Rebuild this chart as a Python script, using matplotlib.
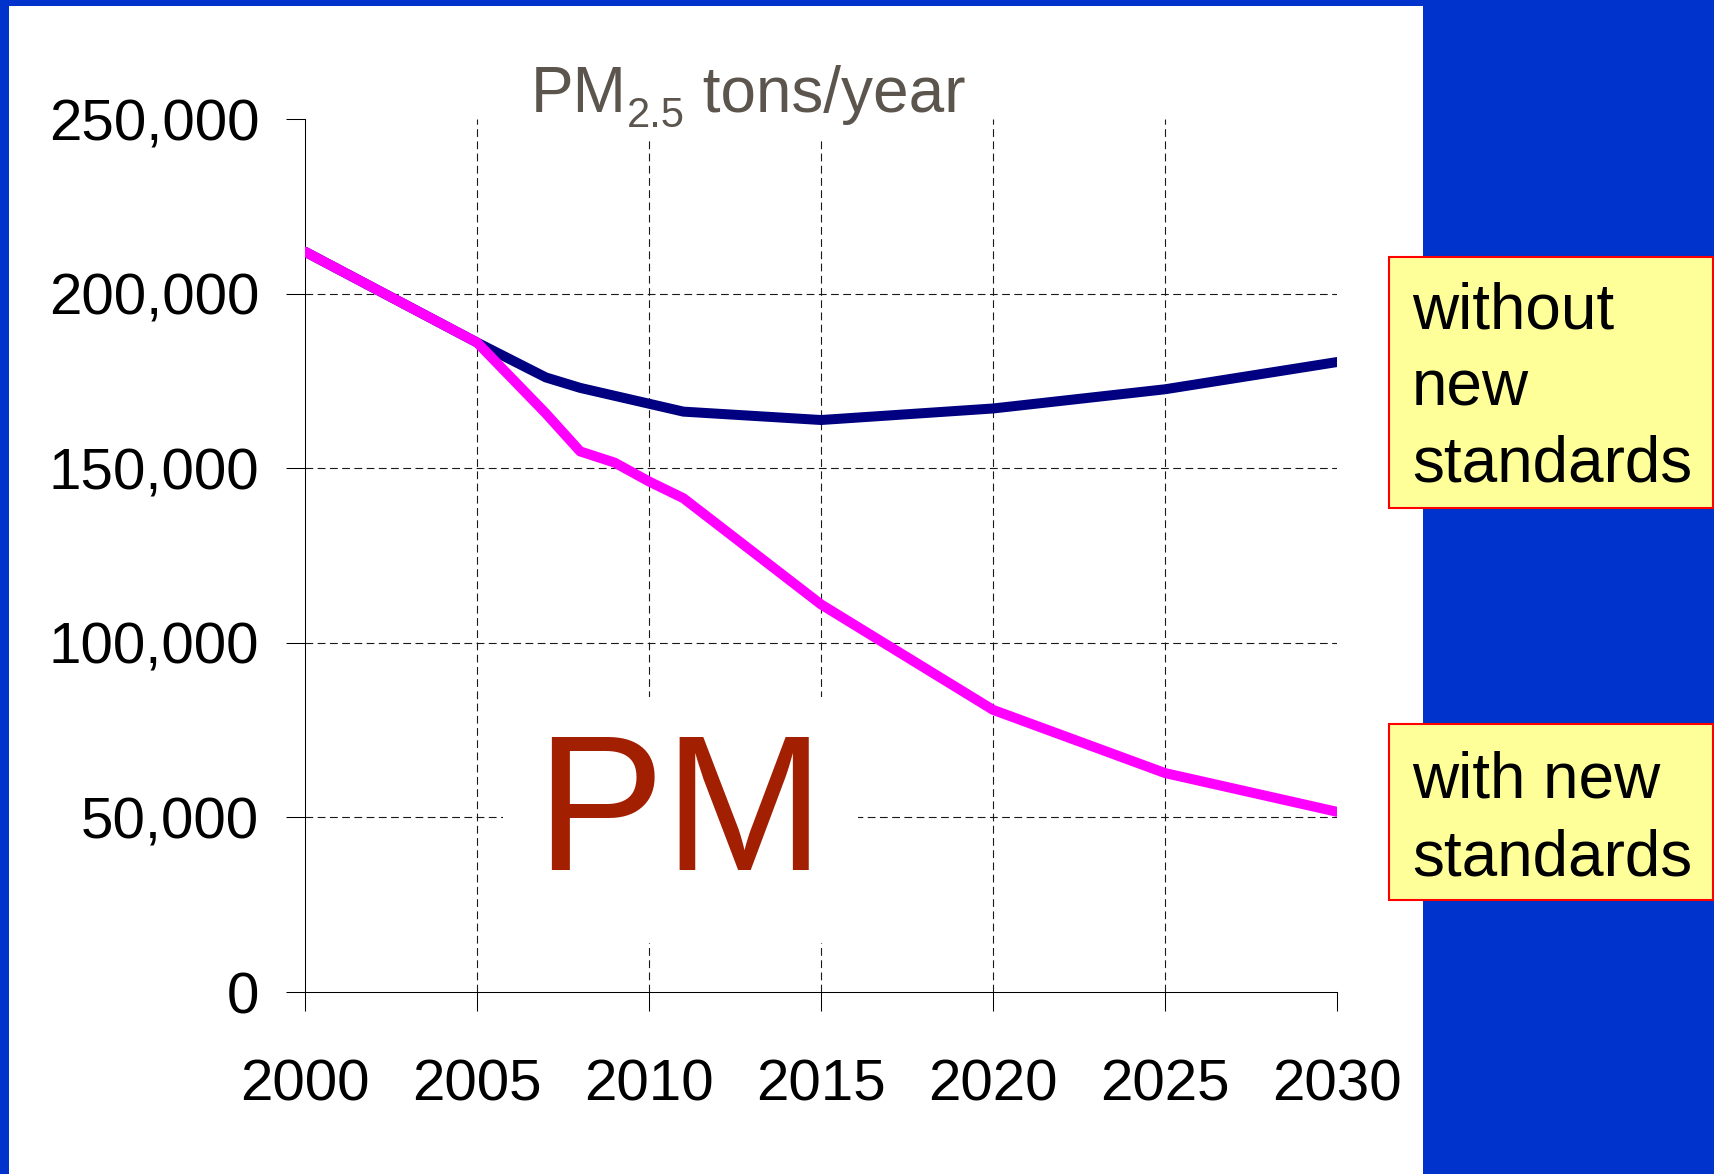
import numpy as np
import matplotlib
matplotlib.use("Agg")
import matplotlib.pyplot as plt
import matplotlib.ticker as ticker
from matplotlib.patches import Rectangle

plt.rcParams.update({
    "font.family": ["Liberation Sans", "DejaVu Sans"],
})

# PM2.5 emissions, tons/year
YEARS_WITHOUT = [2000, 2005, 2007, 2008, 2011, 2015, 2020, 2025, 2030]
PM_WITHOUT = [212000, 186000, 176000, 173000, 166200, 163800, 167100, 172600, 180400]

YEARS_WITH = [2000, 2005, 2007, 2008, 2009, 2010, 2011, 2015, 2020, 2025, 2030]
PM_WITH = [212000, 186000, 165700, 154800, 151600, 146200, 141400, 111000, 80800, 62700, 51600]

X_TICKS = [2000, 2005, 2010, 2015, 2020, 2025, 2030]
Y_TICKS = [0, 50000, 100000, 150000, 200000, 250000]

TITLE_PARTS = ["PM", "2.5", " tons/year"]
LABEL_WITHOUT = ["without", "new", "standards"]
LABEL_WITH = ["with new", "standards"]

W, H = 1715, 1174
BG_BLUE = "#0033CC"

fig = plt.figure(figsize=(W / 100, H / 100), dpi=100)
fig.patch.set_facecolor(BG_BLUE)

# white slide area
fig.patches.append(Rectangle((9 / W, 0), (1423 - 9) / W, (H - 6) / H,
                             transform=fig.transFigure, facecolor="white",
                             edgecolor="none", zorder=-5))

ax = fig.add_axes([305 / W, 1 - 992 / H, (1337 - 305) / W, (992 - 119) / H])
ax.patch.set_alpha(0)

ax.set_xlim(X_TICKS[0], X_TICKS[-1])
ax.set_ylim(Y_TICKS[0], Y_TICKS[-1])

# dashed grid, inner ticks only
grid_kw = dict(color="#1a1a1a", linewidth=0.8, linestyle=(0, (7, 4)), zorder=1)
for y in Y_TICKS[1:-1]:
    ax.axhline(y, **grid_kw)
for x in X_TICKS[1:-1]:
    ax.axvline(x, **grid_kw)

ax.plot(YEARS_WITHOUT, PM_WITHOUT, color="#000080", linewidth=7.2,
        solid_capstyle="round", solid_joinstyle="round", zorder=4)
ax.plot(YEARS_WITH, PM_WITH, color="#FF00FF", linewidth=7.2,
        solid_capstyle="round", solid_joinstyle="round", zorder=5)

ax.set_xticks(X_TICKS)
ax.set_yticks(Y_TICKS)
ax.yaxis.set_major_formatter(ticker.FuncFormatter(lambda v, p: f"{int(v):,}"))
ax.tick_params(axis="both", direction="out", length=14, width=0.75,
               color="black", labelsize=42)
ax.tick_params(axis="x", pad=34)
ax.tick_params(axis="y", pad=19)

for side in ["top", "right"]:
    ax.spines[side].set_visible(False)
for side in ["left", "bottom"]:
    ax.spines[side].set_linewidth(0.75)
    ax.spines[side].set_color("black")

# big "PM" watermark with white box hiding the grid
ax.text(2006.7, 35000, "PM", fontsize=139, color="#A31F02", ha="left",
        va="baseline", zorder=3,
        bbox=dict(facecolor="white", edgecolor="none", pad=24))

# chart title: PM, subscript 2.5, tons/year placed one after another
renderer = fig.canvas.get_renderer()
title_color = "#5C554E"
x_px = 531
extents = []
for part, size, drop in zip(TITLE_PARTS, [46, 30, 46], [0, 15, 0]):
    t = fig.text(x_px / W, 1 - (112 + drop) / H, part, fontsize=size,
                 color=title_color, ha="left", va="baseline", zorder=7)
    bb = t.get_window_extent(renderer)
    extents.append(bb)
    x_px += bb.width

# white patch behind the title hides the top of the grid
x0 = min(b.x0 for b in extents) - 4
x1 = max(b.x1 for b in extents) + 4
y1 = max(b.y1 for b in extents)
y0 = H - 140
fig.patches.append(Rectangle((x0 / W, y0 / H), (x1 - x0) / W, (y1 - y0) / H,
                             transform=fig.transFigure, facecolor="white",
                             edgecolor="none", zorder=6))

# yellow label boxes
def label_box(x0, y0, x1, y1, lines, baselines):
    fig.patches.append(Rectangle((x0 / W, 1 - y1 / H), (x1 - x0) / W, (y1 - y0) / H,
                                 transform=fig.transFigure, facecolor="#FFFF99",
                                 edgecolor="#FF0000", linewidth=1.5, zorder=8))
    for line, b in zip(lines, baselines):
        fig.text(1412 / W, 1 - b / H, line, fontsize=46, color="black",
                 ha="left", va="baseline", zorder=9)

label_box(1389, 257, 1713, 508, LABEL_WITHOUT, [329, 406, 482])
label_box(1389, 724, 1713, 900, LABEL_WITH, [798, 875])

fig.savefig("out.png", dpi=100, facecolor=fig.get_facecolor())
plt.close(fig)
